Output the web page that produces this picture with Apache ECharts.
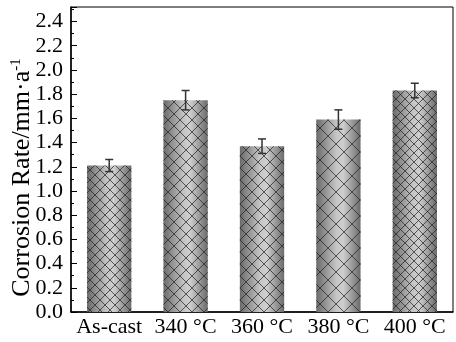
<!DOCTYPE html>
<html>
<head>
<meta charset="utf-8">
<script src="https://cdn.jsdelivr.net/npm/echarts@6/dist/echarts.min.js"></script>
<style>
  html, body { margin: 0; padding: 0; background: #fff; }
  #chart { width: 456px; height: 342px; }
</style>
</head>
<body>
<div id="chart"></div>
<script>
var categories = ['As-cast', '340 °C', '360 °C', '380 °C', '400 °C']
var rates = [1.21, 1.75, 1.37, 1.59, 1.83]
var errors = [0.05, 0.08, 0.06, 0.08, 0.06]
var hatchSizes = [10, 12, 12, 16, 9]

// crosshatch tile, transparent background
function hatch (size) {
  var c = document.createElement('canvas')
  c.width = size
  c.height = size
  var ctx = c.getContext('2d')
  ctx.strokeStyle = 'rgba(30,30,30,0.7)'
  ctx.lineWidth = 1
  ctx.beginPath()
  ctx.moveTo(0, 0); ctx.lineTo(size, size)
  ctx.moveTo(size, 0); ctx.lineTo(0, size)
  ctx.stroke()
  return c
}

var grad = new echarts.graphic.LinearGradient(0, 0, 1, 0, [
  {offset: 0, color: '#6a6a6a'},
  {offset: 0.45, color: '#c4c4c4'},
  {offset: 0.6, color: '#cfcfcf'},
  {offset: 1, color: '#6a6a6a'}
])

var font = '"Liberation Serif", "Times New Roman", serif'
var chart = echarts.init(document.getElementById('chart'))

chart.setOption({
  animation: false,
  grid: {
    left: 71, right: 3, top: 7, bottom: 30,
    outerBoundsMode: 'none',
    containLabel: false,
    show: true, borderColor: '#000', borderWidth: 1
  },
  xAxis: {
    type: 'category',
    data: categories,
    axisLine: {lineStyle: {color: '#000', width: 1.5}},
    axisTick: {show: false},
    axisLabel: {color: '#000', fontFamily: font, fontSize: 22, margin: 4, interval: 0}
  },
  yAxis: {
    type: 'value',
    min: 0,
    max: 2.52,
    interval: 0.2,
    splitLine: {show: false},
    axisLine: {show: true, lineStyle: {color: '#000', width: 1.5}},
    axisTick: {show: true, inside: true, length: 6, lineStyle: {color: '#000'}},
    minorTick: {show: true, splitNumber: 2, length: 3, lineStyle: {color: '#000'}},
    axisLabel: {
      color: '#000', fontFamily: font, fontSize: 22, margin: 8,
      formatter: function (v) { return v > 2.45 ? '' : v.toFixed(1) }
    },
    name: '{t|Corrosion Rate/mm·a}{s|-1}',
    nameLocation: 'middle',
    nameGap: 36,
    nameMoveOverlap: false,
    nameTextStyle: {
      padding: [0, 36, 0, 0],
      rich: {
        t: {fontFamily: font, fontSize: 26, color: '#000'},
        s: {fontFamily: font, fontSize: 15, color: '#000', verticalAlign: 'top', padding: [0, 0, 11, 0]}
      }
    }
  },
  series: [
    {
      type: 'bar',
      barWidth: '58%',
      data: rates,
      itemStyle: {color: grad}
    },
    {
      type: 'bar',
      barWidth: '58%',
      barGap: '-100%',
      data: rates.map(function (v, i) {
        return {value: v, itemStyle: {color: {image: hatch(hatchSizes[i]), repeat: 'repeat'}}}
      })
    },
    {
      type: 'custom',
      data: rates.map(function (v, i) { return [i, v - errors[i], v + errors[i]] }),
      renderItem: function (params, api) {
        var lo = api.coord([api.value(0), api.value(1)])
        var hi = api.coord([api.value(0), api.value(2)])
        var w = 4
        var st = {stroke: '#333', lineWidth: 1.5}
        return {
          type: 'group',
          children: [
            {type: 'line', shape: {x1: hi[0], y1: hi[1], x2: lo[0], y2: lo[1]}, style: st},
            {type: 'line', shape: {x1: hi[0] - w, y1: hi[1], x2: hi[0] + w, y2: hi[1]}, style: st},
            {type: 'line', shape: {x1: lo[0] - w, y1: lo[1], x2: lo[0] + w, y2: lo[1]}, style: st}
          ]
        }
      },
      z: 5
    }
  ]
})
</script>
</body>
</html>
